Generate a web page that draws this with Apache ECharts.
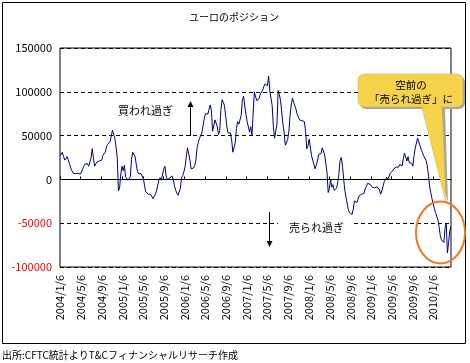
<!DOCTYPE html>
<html><head><meta charset="utf-8">
<script src="https://cdn.jsdelivr.net/npm/echarts@6/dist/echarts.min.js"></script>
<style>html,body{margin:0;padding:0;background:#fff}#c{width:470px;height:363px}</style>
</head><body><div id="c"></div>
<script>
const titleText = 'ユーロのポジション';
const sourceText = '出所:CFTC統計よりT&Cフィナンシャルリサーチ作成';
const startDate = [2004, 1, 6];   // first weekly CFTC report (Tuesday)
const tickLabels = ['2004/1/6','2004/5/6','2004/9/6','2005/1/6','2005/5/6','2005/9/6','2006/1/6','2006/5/6','2006/9/6',
  '2007/1/6','2007/5/6','2007/9/6','2008/1/6','2008/5/6','2008/9/6','2009/1/6','2009/5/6','2009/9/6','2010/1/6'];
const yMin = -100000, yMax = 150000, yStep = 50000;
const positions = [
  27000,29000,31000,26000,22000,24000,26000,24000,18000,13000,
  10000,7000,6500,6500,6000,7000,8000,6000,8500,12000,
  15000,17500,19500,18000,15000,16000,24000,35000,25000,15000,
  17000,20000,19000,21000,23000,22000,27500,27000,31000,37500,
  40000,39000,43000,49500,56000,55000,47000,37000,25000,-13000,
  -10000,6000,15000,10000,16000,3000,4000,-1000,-2000,3000,
  23000,31000,29000,26000,17000,9000,6500,6000,6500,4500,
  1000,-8000,-14000,-15500,-17000,-16000,-17000,-18000,-22000,-20000,
  -17000,-13000,-6500,-1000,2000,-1000,1000,12000,15000,4000,
  0,-1000,1500,0,4000,0,-7000,-12500,-13000,-18000,
  -19000,-10000,2000,4500,9000,15000,27000,36000,35000,22000,
  12000,10000,13000,16000,22000,36500,42000,47000,45000,53000,
  61000,69500,75000,73000,74500,80000,85000,79000,55000,57000,
  68000,68000,60000,51000,56000,80000,91000,88000,84000,72000,
  60000,53000,51000,53000,45000,31000,31000,42000,58000,66000,
  63000,64000,73000,91000,95000,84000,74000,66000,60000,54000,
  60000,50000,75000,100000,98000,90000,91000,92000,97000,98500,
  102000,106000,109000,108000,107000,118000,101000,100000,84000,60000,
  47000,49000,63000,101500,97000,90000,77000,63000,54000,39000,
  40000,45500,55000,73000,85000,93000,88000,86000,80000,74000,
  71000,68000,67500,67000,67000,66000,55000,35000,38000,46000,
  37000,27000,22000,17000,12000,13000,21000,28500,30000,29500,
  36000,34000,28000,18000,8000,-15000,-10000,0,-9000,-6000,
  -12500,-12000,-10000,-3500,6500,22000,25000,15000,0,-13000,
  -21000,-28500,-35500,-38000,-36000,-40000,-34000,-24500,-24000,-26500,
  -22500,-18500,-19000,-17000,-16500,-16000,-11000,-8000,-4500,-4000,
  -5500,-6500,-9000,-9000,-9500,-11000,-8500,-10500,-12000,-17000,
  -13000,-8000,-2500,0,2500,0,3500,7000,8000,9500,
  12000,11000,14000,12500,14000,17000,15000,15500,24000,30000,
  29000,21000,26000,19000,19000,18500,15000,27000,36000,38000,
  47000,47000,38500,34000,31000,27000,24500,22000,16000,6000,
  -7500,-15000,-21600,-27500,-33000,-38000,-40000,-46000,-54000,-64000,
  -69000,-68000,-72000,-56000,-50000,-84000,-72000,-59000,-54000
];

// x positions are days since the first report date
const DAY = 86400000;
const t0 = Date.UTC(startDate[0], startDate[1]-1, startDate[2]);
const days = positions.map((_, i) => i * 7);
const dEnd = days[days.length - 1];
const tickDays = tickLabels.map(s => { const p = s.split('/').map(Number); return Math.round((Date.UTC(p[0], p[1]-1, p[2]) - t0) / DAY); });
const labelOf = {}; tickDays.forEach((d, i) => labelOf[d] = tickLabels[i]);

const FONT = "'Noto Sans CJK JP', sans-serif";
const chart = echarts.init(document.getElementById('c'), null, {renderer: 'canvas'});
chart.setOption({
  animation: false,
  backgroundColor: '#fff',
  textStyle: {fontFamily: FONT},
  grid: {left: 60, right: 19, top: 48, bottom: 96, show: true, borderColor: '#000', borderWidth: 1, backgroundColor: '#fff'},
  xAxis: [
    {type: 'value', min: 0, max: dEnd, position: 'bottom',
     axisLine: {show: true, onZero: true, lineStyle: {color: '#000', width: 1}},
     axisTick: {show: true, inside: true, length: 3, customValues: tickDays, lineStyle: {color: '#000'}},
     axisLabel: {show: false}, splitLine: {show: false}},
    {type: 'value', min: 0, max: dEnd, position: 'bottom',
     axisLine: {show: false, onZero: false}, axisTick: {show: false},
     axisLabel: {show: true, rotate: 90, margin: 8, customValues: tickDays, fontSize: 11, color: '#000', fontFamily: FONT,
       formatter: v => labelOf[Math.round(v)] || ''},
     splitLine: {show: false}}
  ],
  yAxis: {type: 'value', min: yMin, max: yMax, interval: yStep,
    axisLine: {show: false}, axisTick: {show: false},
    axisLabel: {margin: 8, fontSize: 11, fontFamily: FONT, color: v => (Number(v) < 0 ? '#FF0000' : '#000'), formatter: v => String(v)},
    splitLine: {show: true, lineStyle: {color: '#000', type: [4, 3], width: 1}}},
  series: [{type: 'line', xAxisIndex: 0, data: days.map((d, i) => [d, positions[i]]),
    showSymbol: false, symbol: 'none', lineStyle: {color: '#000080', width: 1}, z: 3}],
  graphic: [
    {type: 'rect', shape: {x: 2.5, y: 2.5, width: 463, height: 341}, style: {fill: null, stroke: '#000', lineWidth: 1}, z: 1},
    {type: 'text', x: 234, y: 17, style: {text: titleText, font: "10px " + FONT, fill: '#000', align: 'center', verticalAlign: 'middle'}},
    {type: 'text', x: 2, y: 355, style: {text: sourceText, font: "10px " + FONT, fill: '#000', align: 'left', verticalAlign: 'middle'}},
    {type: 'text', x: 118, y: 111, style: {text: '買われ過ぎ', font: "11px " + FONT, fill: '#000', align: 'left', verticalAlign: 'middle'}, z: 10},
    {type: 'line', shape: {x1: 190.5, y1: 136, x2: 190.5, y2: 106}, style: {stroke: '#000', lineWidth: 1}, z: 10},
    {type: 'polygon', shape: {points: [[187.5, 107], [193.5, 107], [190.5, 101]]}, style: {fill: '#000'}, z: 10},
    {type: 'rect', shape: {x: 278, y: 219, width: 74, height: 15}, style: {fill: '#fff'}, z: 10},
    {type: 'text', x: 289, y: 228, style: {text: '売られ過ぎ', font: "11px " + FONT, fill: '#000', align: 'left', verticalAlign: 'middle'}, z: 11},
    {type: 'line', shape: {x1: 269.5, y1: 212, x2: 269.5, y2: 242}, style: {stroke: '#000', lineWidth: 1}, z: 10},
    {type: 'polygon', shape: {points: [[266.5, 241], [272.5, 241], [269.5, 247]]}, style: {fill: '#000'}, z: 10},
    // callout
    {type: 'polygon', shape: {points: [[424, 106], [445, 106], [448, 203]]}, style: {fill: '#A6A6A6'}, z: 20},
    {type: 'rect', shape: {x: 360, y: 76, width: 105, height: 33, r: 6}, style: {fill: '#A6A6A6'}, z: 20},
    {type: 'polygon', shape: {points: [[421, 104], [442, 104], [446, 202]]}, style: {fill: '#F5D44B', stroke: '#C9AE3A', lineWidth: 0.5}, z: 21},
    {type: 'rect', shape: {x: 358, y: 74, width: 105, height: 33, r: 6}, style: {fill: '#F5D44B', stroke: '#C9AE3A', lineWidth: 0.5}, z: 21},
    {type: 'polygon', shape: {points: [[421.5, 105], [441.5, 105], [436, 110]]}, style: {fill: '#F5D44B'}, z: 22},
    {type: 'text', x: 411, y: 85, style: {text: '空前の', font: "10.5px " + FONT, fill: '#000', align: 'center', verticalAlign: 'middle'}, z: 23},
    {type: 'text', x: 411, y: 99, style: {text: '「売られ過ぎ」に', font: "10.5px " + FONT, fill: '#000', align: 'center', verticalAlign: 'middle'}, z: 23},
    {type: 'ellipse', shape: {cx: 440.5, cy: 232.5, rx: 24.5, ry: 31}, style: {fill: null, stroke: '#F07820', lineWidth: 2}, z: 24}
  ]
});
</script></body></html>
